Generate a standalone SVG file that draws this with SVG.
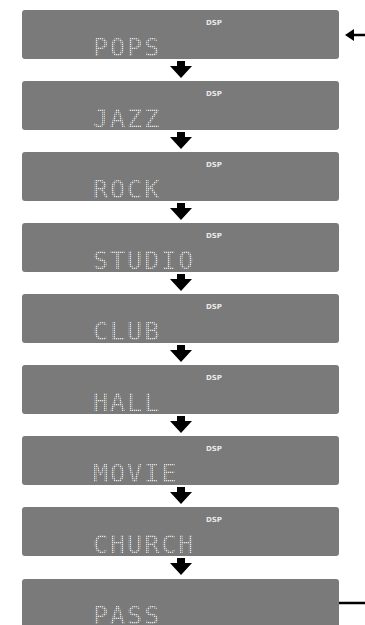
<svg xmlns="http://www.w3.org/2000/svg" width="365" height="625" viewBox="0 0 365 625">
<defs>
<style>
.panel{fill:#7a7a7a}
.dsp{font-family:"DejaVu Sans",sans-serif;font-weight:bold;font-size:7px;fill:#e8e8e8;text-anchor:middle}
.lcd{font-family:"DejaVu Sans Mono",monospace;font-size:25px;letter-spacing:2px;fill:url(#dots)}
.arr{fill:#000}
.line{stroke:#000;stroke-width:2.5;fill:none}
</style>
<pattern id="dots" x="0" y="0" width="2" height="2" patternUnits="userSpaceOnUse">
<rect x="0" y="0" width="1.3" height="1.3" fill="#e4e4e4"/>
</pattern>
<path id="down" d="M-4,0 H4 V5 H11 L0,17 L-11,5 H-4 Z"/>
</defs>
<g id="connectors">
<use href="#down" x="181" y="61" class="arr"/>
<use href="#down" x="181" y="132" class="arr"/>
<use href="#down" x="181" y="203" class="arr"/>
<use href="#down" x="181" y="274" class="arr"/>
<use href="#down" x="181" y="345" class="arr"/>
<use href="#down" x="181" y="416" class="arr"/>
<use href="#down" x="181" y="487" class="arr"/>
<use href="#down" x="181" y="558" class="arr"/>
<line class="line" x1="352" y1="35" x2="365" y2="35"/>
<path class="arr" d="M345,35 L354,29 L354,41 Z"/>
<line class="line" x1="339" y1="603" x2="365" y2="603"/>
</g>
<g id="n1"><rect class="panel" x="22" y="10" width="317" height="49" rx="3"/><text class="dsp" x="214" y="25">DSP</text><text class="lcd" x="93" y="56">POPS</text></g>
<g id="n2"><rect class="panel" x="22" y="81" width="317" height="49" rx="3"/><text class="dsp" x="214" y="96">DSP</text><text class="lcd" x="93" y="127">JAZZ</text></g>
<g id="n3"><rect class="panel" x="22" y="152" width="317" height="49" rx="3"/><text class="dsp" x="214" y="167">DSP</text><text class="lcd" x="93" y="198">ROCK</text></g>
<g id="n4"><rect class="panel" x="22" y="223" width="317" height="49" rx="3"/><text class="dsp" x="214" y="238">DSP</text><text class="lcd" x="93" y="269">STUDIO</text></g>
<g id="n5"><rect class="panel" x="22" y="294" width="317" height="49" rx="3"/><text class="dsp" x="214" y="309">DSP</text><text class="lcd" x="93" y="340">CLUB</text></g>
<g id="n6"><rect class="panel" x="22" y="365" width="317" height="49" rx="3"/><text class="dsp" x="214" y="380">DSP</text><text class="lcd" x="93" y="411">HALL</text></g>
<g id="n7"><rect class="panel" x="22" y="436" width="317" height="49" rx="3"/><text class="dsp" x="214" y="451">DSP</text><text class="lcd" x="93" y="482">MOVIE</text></g>
<g id="n8"><rect class="panel" x="22" y="507" width="317" height="49" rx="3"/><text class="dsp" x="214" y="522">DSP</text><text class="lcd" x="93" y="553">CHURCH</text></g>
<g id="n9"><rect class="panel" x="22" y="579" width="317" height="49" rx="3"/><text class="lcd" x="93" y="624">PASS</text></g>
</svg>
